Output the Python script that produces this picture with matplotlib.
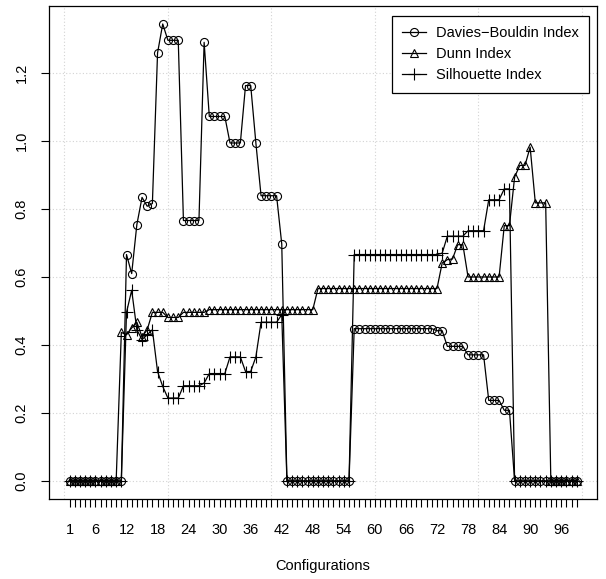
import numpy as np
import matplotlib.pyplot as plt

plt.rcParams['font.family'] = ['Liberation Sans', 'DejaVu Sans']

# Indices de validação por configuração (1..99)
configs = list(range(1, 100))

davies_bouldin = [
    0, 0, 0, 0, 0, 0, 0, 0, 0, 0, 0,
    0.666, 0.610, 0.754, 0.834, 0.808, 0.816, 1.259, 1.344,
    1.296, 1.296, 1.296, 0.766, 0.766, 0.766, 0.766, 1.290,
    1.072, 1.072, 1.072, 1.072, 0.994, 0.994, 0.994, 1.163, 1.163,
    0.994, 0.839, 0.839, 0.839, 0.839, 0.697,
    0, 0, 0, 0, 0, 0, 0, 0, 0, 0, 0, 0, 0,
    0.448, 0.448, 0.448, 0.448, 0.448, 0.448, 0.448, 0.448,
    0.448, 0.448, 0.448, 0.448, 0.448, 0.448, 0.448, 0.448,
    0.442, 0.442, 0.396, 0.396, 0.396, 0.396,
    0.371, 0.371, 0.371, 0.371, 0.237, 0.237, 0.237, 0.208, 0.208,
    0, 0, 0, 0, 0, 0, 0, 0, 0, 0, 0, 0, 0,
]

dunn = [
    0, 0, 0, 0, 0, 0, 0, 0, 0, 0,
    0.437, 0.430, 0.450, 0.467, 0.424, 0.445,
    0.496, 0.496, 0.496, 0.481, 0.481, 0.481,
    0.496, 0.496, 0.496, 0.496, 0.496,
    0.504, 0.504, 0.504, 0.504, 0.504, 0.504, 0.504, 0.504, 0.504, 0.504,
    0.504, 0.504, 0.504, 0.504, 0.504, 0.504, 0.504, 0.504, 0.504, 0.504, 0.504,
    0.566, 0.566, 0.566, 0.566, 0.566, 0.566, 0.566, 0.566, 0.566, 0.566, 0.566, 0.566,
    0.566, 0.566, 0.566, 0.566, 0.566, 0.566, 0.566, 0.566, 0.566, 0.566, 0.566, 0.566,
    0.641, 0.651, 0.653, 0.695, 0.695,
    0.600, 0.600, 0.600, 0.600, 0.600, 0.600, 0.600,
    0.751, 0.751, 0.894, 0.928, 0.928, 0.982, 0.818, 0.818, 0.818,
    0, 0, 0, 0, 0, 0,
]

silhouette = [
    0, 0, 0, 0, 0, 0, 0, 0, 0, 0, 0,
    0.496, 0.561, 0.445, 0.416, 0.430, 0.445, 0.322, 0.278,
    0.244, 0.244, 0.244, 0.280, 0.280, 0.280, 0.280, 0.288,
    0.316, 0.316, 0.316, 0.316, 0.365, 0.365, 0.365, 0.322, 0.322,
    0.365, 0.467, 0.467, 0.467, 0.467, 0.489,
    0, 0, 0, 0, 0, 0, 0, 0, 0, 0, 0, 0, 0,
    0.666, 0.666, 0.666, 0.666, 0.666, 0.666, 0.666, 0.666, 0.666,
    0.666, 0.666, 0.666, 0.666, 0.666, 0.666, 0.666, 0.666, 0.670,
    0.720, 0.720, 0.720, 0.720, 0.736, 0.736, 0.736, 0.736,
    0.827, 0.827, 0.827, 0.859, 0.859,
    0, 0, 0, 0, 0, 0, 0, 0, 0, 0, 0, 0, 0,
]

tick_labels = [1, 6, 12, 18, 24, 30, 36, 42, 48, 54, 60, 66, 72, 78, 84, 90, 96]

fig = plt.figure(figsize=(6.06, 5.79), dpi=100)
ax = fig.add_axes([49.3 / 606, 1 - 499.3 / 579, (597 - 49.3) / 606, (499.3 - 5.7) / 579])

ms = 5.8
lw = 0.9
ax.plot(configs, davies_bouldin, '-o', color='black', lw=lw, ms=ms, mfc='none', mew=0.8,
        label='Davies\u2212Bouldin Index')
ax.plot(configs, dunn, '-^', color='black', lw=lw, ms=ms + 0.5, mfc='none', mew=0.8,
        label='Dunn Index')
ax.plot(configs, silhouette, '-+', color='black', lw=lw, ms=ms + 2.5, mew=0.8,
        label='Silhouette Index')

# limites no estilo do R (4% de folga)
allv = davies_bouldin + dunn + silhouette
ymin, ymax = min(allv), max(allv)
pad = 0.04 * (ymax - ymin)
ax.set_xlim(1 - 0.04 * 98, 99 + 0.04 * 98)
ax.set_ylim(ymin - pad, ymax + pad)

# grade
for gx in [0, 20, 40, 60, 80, 100]:
    ax.axvline(gx, color='lightgray', lw=0.8, ls=(0, (1, 2)), zorder=0)
for gy in [0, 0.2, 0.4, 0.6, 0.8, 1.0, 1.2]:
    ax.axhline(gy, color='lightgray', lw=0.8, ls=(0, (1, 2)), zorder=0)

ax.set_xticks(configs)
ax.set_xticklabels([str(c) if c in tick_labels else '' for c in configs])
ax.set_yticks([0, 0.2, 0.4, 0.6, 0.8, 1.0, 1.2])
ax.set_yticklabels(['0.0', '0.2', '0.4', '0.6', '0.8', '1.0', '1.2'], rotation=90, va='center')
ax.tick_params(axis='both', direction='out', length=6, width=0.8, labelsize=10.5)
ax.tick_params(axis='x', pad=11)
ax.tick_params(axis='y', pad=9)
for s in ax.spines.values():
    s.set_linewidth(0.9)

ax.set_xlabel('Configurations', fontsize=10.5, labelpad=16)

leg = ax.legend(loc='upper right', bbox_to_anchor=(0.9854, 0.9798), borderaxespad=0,
                fancybox=False, edgecolor='black', framealpha=1, fontsize=10.5,
                handlelength=1.6, borderpad=0.7, labelspacing=0.5, handletextpad=0.7)
leg.get_frame().set_linewidth(0.9)

fig.savefig('out.png', dpi=100)
